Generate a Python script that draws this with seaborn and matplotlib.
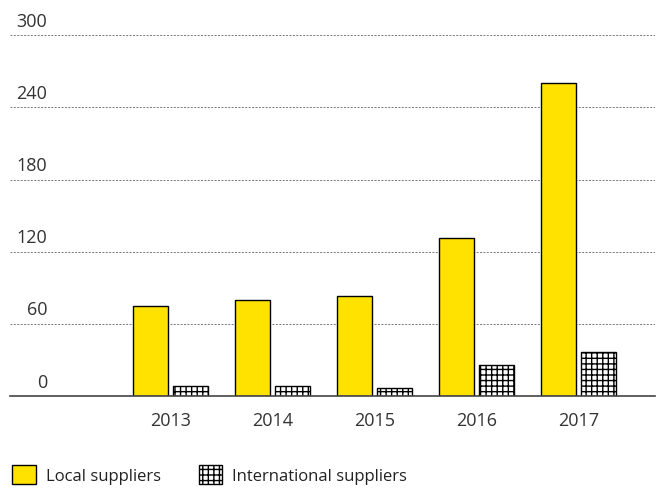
import numpy as np
import pandas as pd
import seaborn as sns
import matplotlib
import matplotlib.pyplot as plt
from matplotlib.patches import Patch
matplotlib.use('Agg')

# values
years = ['2013', '2014', '2015', '2016', '2017']
local = [75, 80, 83, 131, 260]
international = [8, 8, 7, 26, 37]
series = ['Local suppliers', 'International suppliers']
yticks = [0, 60, 120, 180, 240, 300]

df = pd.DataFrame({
    'year': years * 2,
    'value': local + international,
    'type': [series[0]] * len(years) + [series[1]] * len(years),
})

sns.set_style('white')
plt.rcParams['font.family'] = ['Open Sans', 'DejaVu Sans']
plt.rcParams['hatch.linewidth'] = 1.0

fig = plt.figure(figsize=(6.68, 4.89), dpi=100)
ax = fig.add_axes([0.015, 0.188, 0.965, 0.738])

yellow = '#FFE200'
ax = sns.barplot(data=df, x='year', y='value', hue='type', ax=ax,
                 palette=[yellow, 'white'], saturation=1, width=0.78, gap=0.12,
                 edgecolor='black', linewidth=1.0, legend=False)
for bar in ax.containers[1]:
    bar.set_hatch('+++')

ax.set_xlim(-1.57, 4.745)
ax.set_ylim(0, 300)
ax.set_xlabel('')
ax.set_ylabel('')
ax.set_yticks([])
for s in ['left', 'right', 'top']:
    ax.spines[s].set_visible(False)
ax.spines['bottom'].set_color('#444444')
ax.spines['bottom'].set_linewidth(1.2)

# dotted grid with labels sitting above each line
tr = ax.get_yaxis_transform()
for v in yticks:
    if v > 0:
        ax.axhline(v, color='#777777', linestyle=(0, (2, 1.5)), linewidth=0.7, zorder=0)
    ax.annotate(str(v), xy=(0.058, v), xycoords=tr, xytext=(0, 4),
                textcoords='offset points', ha='right', va='bottom',
                fontsize=13, color='#333333')

ax.tick_params(axis='x', length=0, pad=11, labelsize=13, labelcolor='#333333')

handles = [Patch(facecolor=yellow, edgecolor='black', linewidth=1.0),
           Patch(facecolor='white', edgecolor='black', linewidth=1.0, hatch='+++')]
fig.legend(handles, series, loc='lower left', bbox_to_anchor=(-0.004, -0.022),
           ncol=2, frameon=False, fontsize=12, handlelength=1.4, handleheight=1.4,
           handletextpad=0.6, columnspacing=2.3, labelcolor='#222222')

fig.savefig('out.png', dpi=100)
